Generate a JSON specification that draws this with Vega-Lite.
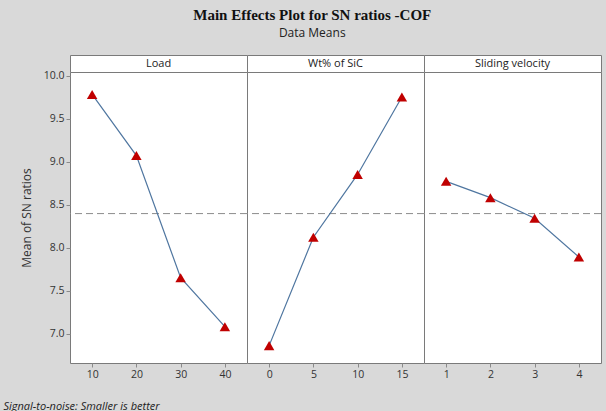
{
  "$schema": "https://vega.github.io/schema/vega-lite/v6.json",
  "background": "#d9d9d9",
  "padding": {"left": 2, "top": 7, "right": 5, "bottom": 0},
  "title": {
    "text": "Main Effects Plot for SN ratios -COF",
    "subtitle": "Data Means",
    "font": "Liberation Serif",
    "fontSize": 15,
    "fontWeight": "bold",
    "color": "#111111",
    "subtitleFont": "Open Sans",
    "subtitleFontSize": 12,
    "subtitleColor": "#222222",
    "subtitlePadding": 5,
    "anchor": "middle",
    "offset": 16,
    "dx": 10
  },
  "data": {
    "values": [
      {"factor": "Load", "level": 10, "sn": 9.78},
      {"factor": "Load", "level": 20, "sn": 9.07},
      {"factor": "Load", "level": 30, "sn": 7.65},
      {"factor": "Load", "level": 40, "sn": 7.08},
      {"factor": "Wt% of SiC", "level": 0, "sn": 6.86},
      {"factor": "Wt% of SiC", "level": 5, "sn": 8.12},
      {"factor": "Wt% of SiC", "level": 10, "sn": 8.85},
      {"factor": "Wt% of SiC", "level": 15, "sn": 9.75},
      {"factor": "Sliding velocity", "level": 1, "sn": 8.77},
      {"factor": "Sliding velocity", "level": 2, "sn": 8.58},
      {"factor": "Sliding velocity", "level": 3, "sn": 8.34},
      {"factor": "Sliding velocity", "level": 4, "sn": 7.89}
    ]
  },
  "bounds": "flush",
  "align": "each",
  "spacing": 0,
  "columns": 3,
  "resolve": {"scale": {"x": "independent", "y": "independent"}},
  "concat": [
    {
      "width": 177,
      "height": 17,
      "view": {"fill": "white", "stroke": "#7a7a7a"},
      "transform": [
        {"filter": "datum.factor === 'Load'"},
        {"aggregate": [{"op": "count", "as": "n"}], "groupby": ["factor"]}
      ],
      "mark": {"type": "text", "font": "Open Sans", "fontSize": 11, "color": "#222222", "baseline": "middle"},
      "encoding": {"text": {"field": "factor"}}
    },
    {
      "width": 177,
      "height": 17,
      "view": {"fill": "white", "stroke": "#7a7a7a"},
      "transform": [
        {"filter": "datum.factor === 'Wt% of SiC'"},
        {"aggregate": [{"op": "count", "as": "n"}], "groupby": ["factor"]}
      ],
      "mark": {"type": "text", "font": "Open Sans", "fontSize": 11, "color": "#222222", "baseline": "middle"},
      "encoding": {"text": {"field": "factor"}}
    },
    {
      "width": 177,
      "height": 17,
      "view": {"fill": "white", "stroke": "#7a7a7a"},
      "transform": [
        {"filter": "datum.factor === 'Sliding velocity'"},
        {"aggregate": [{"op": "count", "as": "n"}], "groupby": ["factor"]}
      ],
      "mark": {"type": "text", "font": "Open Sans", "fontSize": 11, "color": "#222222", "baseline": "middle"},
      "encoding": {"text": {"field": "factor"}}
    },
    {
      "width": 177,
      "height": 291,
      "transform": [{"filter": "datum.factor === 'Load'"}],
      "layer": [
        {
          "mark": {"type": "rule", "color": "#8c8c8c", "strokeDash": [7, 4], "strokeWidth": 1},
          "encoding": {
            "y": {"aggregate": "mean", "field": "sn", "type": "quantitative",
              "scale": {"domain": [6.658, 10.041], "nice": false, "zero": false},
              "axis": {"title": "Mean of SN ratios", "format": ".1f", "values": [7, 7.5, 8, 8.5, 9, 9.5, 10], "titlePadding": 10}}
          }
        },
        {
          "encoding": {
            "x": {"field": "level", "type": "ordinal", "scale": {"type": "point", "padding": 0.5},
              "axis": {"labelAngle": 0, "title": "Signal-to-noise: Smaller is better", "titleX": -67, "titleY": 43,
                "titleAlign": "left", "titleBaseline": "middle", "titleFontStyle": "italic", "titleFontSize": 11, "titleColor": "#222222"}},
            "y": {"field": "sn", "type": "quantitative",
              "scale": {"domain": [6.658, 10.041], "nice": false, "zero": false},
              "axis": {"title": "Mean of SN ratios", "format": ".1f", "values": [7, 7.5, 8, 8.5, 9, 9.5, 10], "titlePadding": 10}}
          },
          "layer": [
            {"mark": {"type": "line", "color": "#4f76a0", "strokeWidth": 1.2}},
            {"mark": {"type": "point", "shape": "triangle-up", "filled": true, "color": "#c00000", "size": 110, "opacity": 1}}
          ]
        }
      ]
    },
    {
      "width": 177,
      "height": 291,
      "transform": [{"filter": "datum.factor === 'Wt% of SiC'"}],
      "layer": [
        {
          "mark": {"type": "rule", "color": "#8c8c8c", "strokeDash": [7, 4], "strokeWidth": 1},
          "encoding": {
            "y": {"aggregate": "mean", "field": "sn", "type": "quantitative",
              "scale": {"domain": [6.658, 10.041], "nice": false, "zero": false}, "axis": null}
          }
        },
        {
          "encoding": {
            "x": {"field": "level", "type": "ordinal", "scale": {"type": "point", "padding": 0.5},
              "axis": {"labelAngle": 0, "title": null}},
            "y": {"field": "sn", "type": "quantitative",
              "scale": {"domain": [6.658, 10.041], "nice": false, "zero": false}, "axis": null}
          },
          "layer": [
            {"mark": {"type": "line", "color": "#4f76a0", "strokeWidth": 1.2}},
            {"mark": {"type": "point", "shape": "triangle-up", "filled": true, "color": "#c00000", "size": 110, "opacity": 1}}
          ]
        }
      ]
    },
    {
      "width": 177,
      "height": 291,
      "transform": [{"filter": "datum.factor === 'Sliding velocity'"}],
      "layer": [
        {
          "mark": {"type": "rule", "color": "#8c8c8c", "strokeDash": [7, 4], "strokeWidth": 1},
          "encoding": {
            "y": {"aggregate": "mean", "field": "sn", "type": "quantitative",
              "scale": {"domain": [6.658, 10.041], "nice": false, "zero": false}, "axis": null}
          }
        },
        {
          "encoding": {
            "x": {"field": "level", "type": "ordinal", "scale": {"type": "point", "padding": 0.5},
              "axis": {"labelAngle": 0, "title": null}},
            "y": {"field": "sn", "type": "quantitative",
              "scale": {"domain": [6.658, 10.041], "nice": false, "zero": false}, "axis": null}
          },
          "layer": [
            {"mark": {"type": "line", "color": "#4f76a0", "strokeWidth": 1.2}},
            {"mark": {"type": "point", "shape": "triangle-up", "filled": true, "color": "#c00000", "size": 110, "opacity": 1}}
          ]
        }
      ]
    }
  ],
  "config": {
    "view": {"fill": "white", "stroke": "#7a7a7a", "strokeWidth": 1},
    "axis": {
      "grid": false,
      "domain": false,
      "tickSize": 4,
      "tickColor": "#8a8a8a",
      "labelFont": "Open Sans",
      "labelFontSize": 10.5,
      "labelColor": "#333333",
      "labelPadding": 2,
      "titleFont": "Open Sans",
      "titleFontSize": 12,
      "titleFontWeight": "normal",
      "titleColor": "#333333"
    }
  }
}
